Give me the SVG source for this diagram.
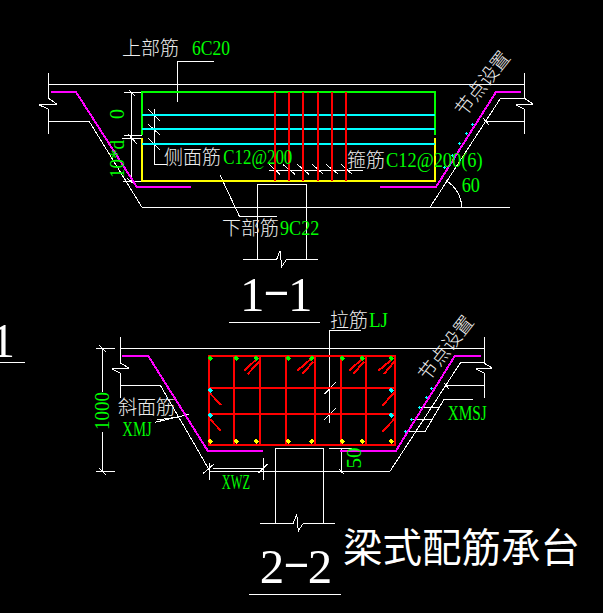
<svg xmlns="http://www.w3.org/2000/svg" width="603" height="613" viewBox="0 0 603 613" shape-rendering="crispEdges">
<style>
.w{fill:none;stroke:#fff;stroke-width:1}
.m{fill:none;stroke:#f0f;stroke-width:2}
.r{fill:none;stroke:#f00;stroke-width:2}
.c{stroke:#0ff;stroke-width:2}
.g{font-family:"Liberation Serif",serif;font-size:20px;fill:#0f0}
.t{font-family:"Noto Sans CJK SC",sans-serif;font-size:19px;font-weight:300;fill:#eee}
.b{font-family:"Liberation Serif",serif;font-size:49px;fill:#fff}
.h{font-family:"DejaVu Sans",sans-serif;font-weight:200;font-size:80px}
</style>
<defs>
<path id="d" d="M0-2.6L2.6 0 0 2.6-2.6 0Z"/>
<path id="cy" d="M-1.5 0H1.5M0-1.5V1.5" stroke="#0ff" stroke-width="1"/>
</defs>
<rect width="603" height="613" fill="#000"/>
<g id="connectors">
<path class="w" d="M177 101.7V61.7H213.7M154.3 109V164.7H167M148.3 109.3L160 120.7M148.3 124.3L160 135M148.3 138.3L160 150"/>
<path class="w" d="M131.7 92V181M124 92H141.7M124 135H142M122 138H142M123 181H142M129 90L135 96M128 134L137 144M127 178L135 185"/>
<path class="w" d="M269 170.3H362.7M269.3 164.3L280 174.3M282.7 164.3L295 174.3M297.3 164.3L309 174.3M312.3 164.3L323.3 174.3M326 164.3L338.3 174.3M341 164.3L352.3 174.3"/>
<path class="w" d="M220 175L239.3 216H276.7M461.7 207.3A31.3 31.3 0 0 0 446 180.7"/>
<path class="w" d="M102.3 348.3V392M102.3 432V471.3M96 348.3H115M96 471.3H115M99 345L106 352M99 468L106 475"/>
<path class="w" d="M155 422.3L189 414.3M157 420L178 417"/>
<path class="w" d="M209.3 463V480M263.3 457.7V480M213 468.3H263.3M203.3 473.3L214 464M258.3 473.3L267.7 464"/>
<path class="w" d="M329.3 422.7V330H361M324.3 394.3L335.7 382.3M324.3 420L335.7 408.3"/>
<path class="w" d="M472.7 399.3H444L425 431.7H405M411.7 419H432.3M420 407.7H439"/>
<path class="w" d="M341.3 448V473M329.3 448.3H351.7M339 469L344 474"/>
</g>
<g id="section-1">
<path class="w" d="M48 84.3H524M48 73V98L56.7 104L39.3 105L48 109V134M48 121H89L142 207.3H510M430 207.3L500.7 98H524M487 121H524M524 73V98L533 104L516 105L524 109V134M483 118L489 125"/>
<path class="w" d="M257.3 259.3V184H306.3V259.3M243 259.3H276.7L280 250.7L281.7 266.7L286.7 259.3H317.7"/>
<path class="m" d="M51 92H76L136.7 186.7H190.7M380 187H436L496 92H521"/>
<path d="M142 135V92H435V135" fill="none" stroke="#0f0" stroke-width="2"/>
<path d="M142 138V181H435V138" fill="none" stroke="#ff0" stroke-width="2"/>
<path class="c" d="M142 115H435M142 129H435M142 144H435"/>
<path class="r" d="M275 92V181M288.7 92V181M303 92V181M318 92V181M332 92V181M346 92V181"/>
<use href="#cy" x="444.3" y="167.3"/><use href="#cy" x="452.7" y="155.3"/><use href="#cy" x="459.3" y="143.3"/><use href="#cy" x="466.3" y="133.3"/><use href="#cy" x="472.3" y="124.7"/>
</g>
<g id="section-2">
<path class="w" d="M120.3 348.3H484M120.3 337V363L129 368L111.7 369L120.3 373V398M120.3 385.3H160.3L210 471.3H390L460.7 362.3H484M446.7 385.7H484M484 337V363L492 368L475.7 369L484 373V398M444 383L449 389"/>
<path class="w" d="M275.3 523.3V448.3H323.7V523.3M260 523.3H293.3L296.7 514L298.3 531L303.3 523.3H335"/>
<path class="m" d="M122 356H148.3L207.7 450.7H262.7M340 450.7H396L455 355.7H481"/>
<path class="r" d="M208.7 356H395V444.7H208.7ZM234 356V444.7M260 356V444.7M286 356V444.7M315 356V444.7M340.7 356V444.7M366 356V444.7M208.7 387.7H395M208.7 414H395M210 393.3L221 405M210 419.3L221 430.7M258.3 357.7L244 370.7M259.3 361.7L247.7 374M311.7 358.3L297.3 370.7M313.3 361.7L302.3 374M363 358L349.3 370.7M364 361.7L353.3 374M393.3 358.3L378.3 370.7M394.3 361.7L384 374M395 391.7L382.3 405.7M395 418.3L382.3 431.7"/>
<g fill="#0f0"><use href="#d" x="210.3" y="358.3"/><use href="#d" x="236.3" y="358.3"/><use href="#d" x="256.3" y="358.3"/><use href="#d" x="288.3" y="358.3"/><use href="#d" x="311.7" y="358.3"/><use href="#d" x="342.3" y="358.3"/><use href="#d" x="362.3" y="358.3"/><use href="#d" x="391.3" y="358.3"/></g>
<g fill="#ff0"><use href="#d" x="210.3" y="441.3"/><use href="#d" x="236.3" y="441.3"/><use href="#d" x="256.3" y="441.3"/><use href="#d" x="288.3" y="441.3"/><use href="#d" x="311.7" y="441.3"/><use href="#d" x="342.3" y="441.3"/><use href="#d" x="362.3" y="441.3"/><use href="#d" x="391.3" y="441.3"/></g>
<g fill="#0ff"><use href="#d" x="210.3" y="390.3"/><use href="#d" x="210.3" y="415.3"/><use href="#d" x="391.3" y="390.3"/><use href="#d" x="391.3" y="415.3"/></g>
<use href="#cy" x="405" y="431.7"/><use href="#cy" x="411.7" y="419"/><use href="#cy" x="419.7" y="407.3"/><use href="#cy" x="426.3" y="397.3"/><use href="#cy" x="431.3" y="388.3"/>
</g>
<g id="titles">
<path class="w" d="M229 322.3H319.7M0 362.3H25M249.3 594.3H340.7"/>
<text class="b" y="311"><tspan x="240">1</tspan><tspan class="h" x="262" dy="4">-</tspan><tspan x="288" dy="-4">1</tspan></text>
<text class="b" x="-9.5" y="356.7">1</text>
<text class="b" y="583.3"><tspan x="259.7">2</tspan><tspan class="h" x="282" dy="4">-</tspan><tspan x="307.7" dy="-4">2</tspan></text>
<text x="343" y="562" font-family="'Noto Sans CJK SC',sans-serif" font-size="39.5" fill="#fff">梁式配筋承台</text>
</g>
<g id="labels">
<text class="t" x="122" y="55">上部筋</text>
<text class="g" x="192" y="55" textLength="38" lengthAdjust="spacingAndGlyphs">6C20</text>
<text class="g" transform="translate(124 114) rotate(-90)" text-anchor="middle" textLength="10" lengthAdjust="spacingAndGlyphs">0</text>
<text class="g" transform="translate(124 159) rotate(-90)" text-anchor="middle" textLength="38" lengthAdjust="spacingAndGlyphs">10*d</text>
<text class="t" x="164" y="163.5">侧面筋</text>
<text class="g" x="223.3" y="164" textLength="69" lengthAdjust="spacingAndGlyphs">C12@200</text>
<text class="t" x="347" y="166.5">箍筋</text>
<text class="g" x="386" y="167.3" textLength="96.7" lengthAdjust="spacingAndGlyphs">C12@200(6)</text>
<text class="t" x="222" y="234.5">下部筋</text>
<text class="g" x="280" y="235" textLength="39.3" lengthAdjust="spacingAndGlyphs">9C22</text>
<text class="g" x="461.7" y="191.7" textLength="18.3" lengthAdjust="spacingAndGlyphs">60</text>
<text class="t" transform="translate(482.4 83.3) rotate(-52)" text-anchor="middle" y="7" font-size="20">节点设置</text>
<text class="t" transform="translate(445.7 348) rotate(-52)" text-anchor="middle" y="7" font-size="20">节点设置</text>
<text class="t" x="330" y="326.5">拉筋</text>
<text class="g" x="369" y="327" textLength="19" lengthAdjust="spacingAndGlyphs">LJ</text>
<text class="t" x="118" y="414">斜面筋</text>
<text class="g" x="122.3" y="436" textLength="29.4" lengthAdjust="spacingAndGlyphs">XMJ</text>
<text class="g" transform="translate(109 411) rotate(-90)" text-anchor="middle" textLength="38" lengthAdjust="spacingAndGlyphs">1000</text>
<text class="g" x="221.7" y="489" textLength="28.3" lengthAdjust="spacingAndGlyphs">XWZ</text>
<text class="g" transform="translate(361 458) rotate(-90)" text-anchor="middle" textLength="21" lengthAdjust="spacingAndGlyphs">50</text>
<text class="g" x="447.7" y="420" textLength="39" lengthAdjust="spacingAndGlyphs">XMSJ</text>
</g>
</svg>
